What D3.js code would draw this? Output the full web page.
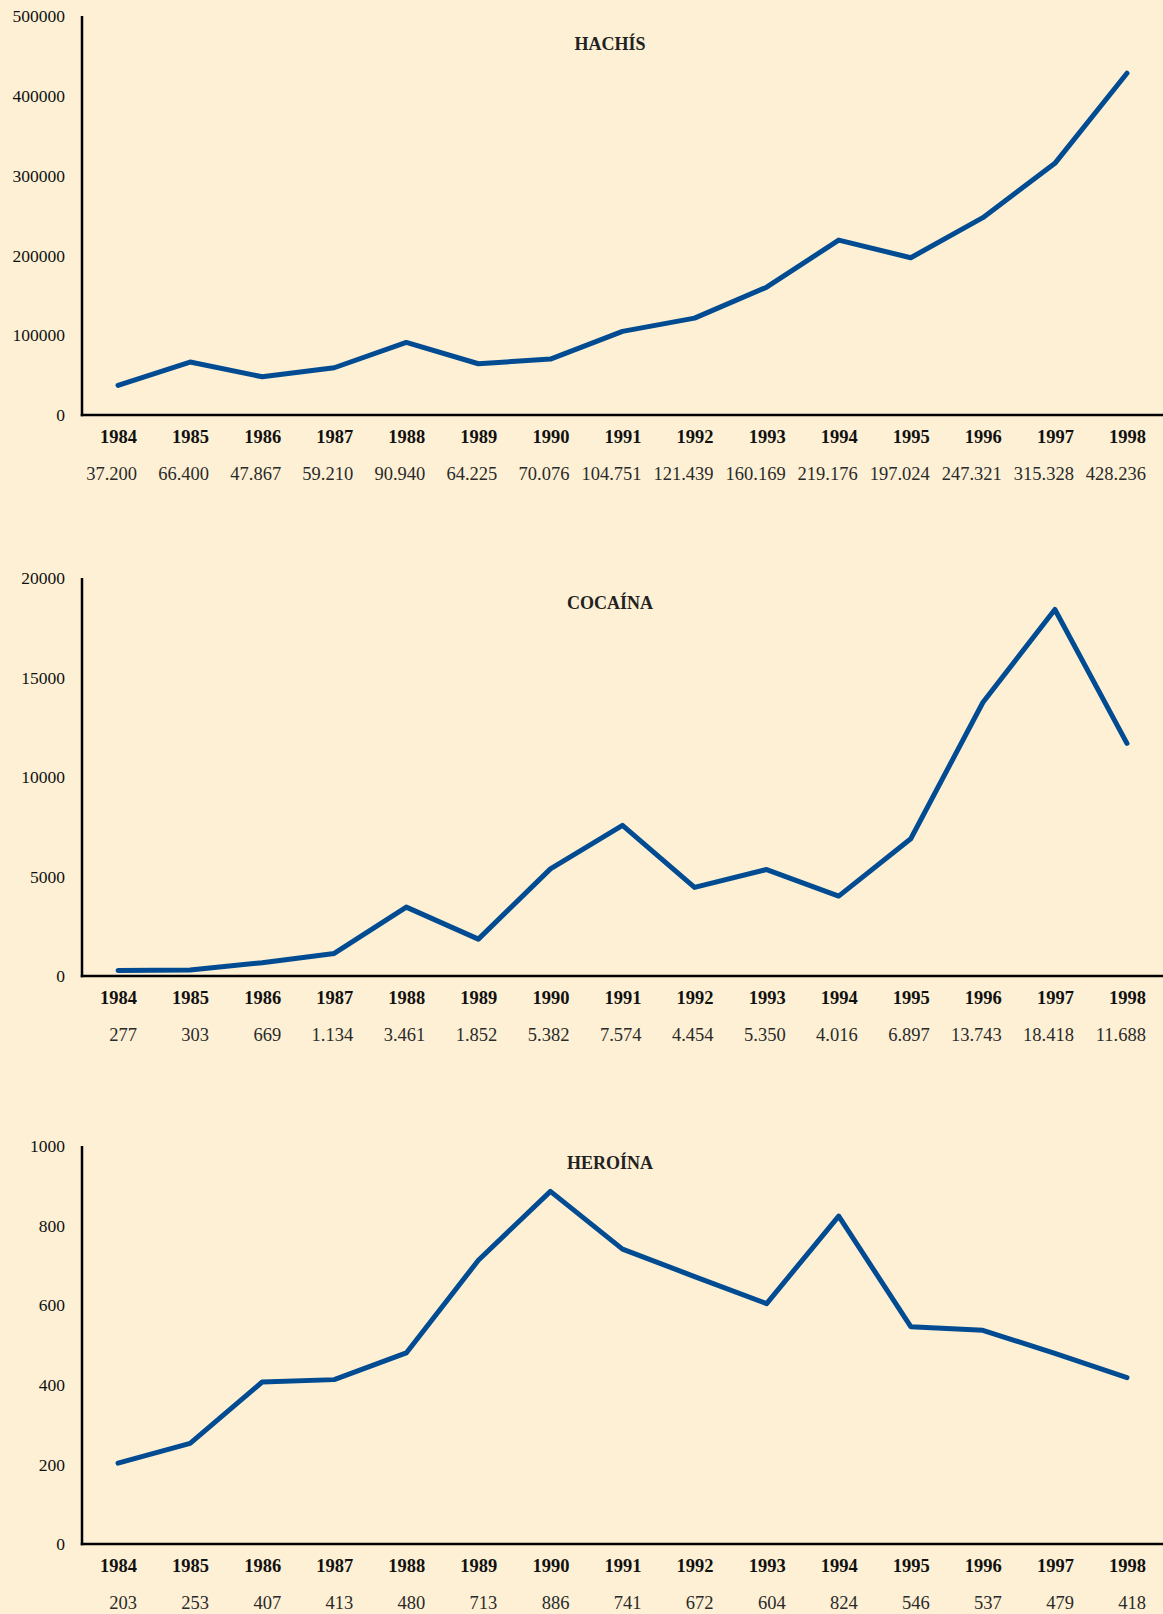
<!DOCTYPE html>
<html><head><meta charset="utf-8">
<script src="https://cdn.jsdelivr.net/npm/d3@7"></script>
<style>
html,body{margin:0;padding:0;background:#fdf0d4;}
svg{display:block;}
</style></head>
<body>
<svg id="c" width="1163" height="1614"></svg>
<script>
const years = [1984,1985,1986,1987,1988,1989,1990,1991,1992,1993,1994,1995,1996,1997,1998];
const hachis = [37200,66400,47867,59210,90940,64225,70076,104751,121439,160169,219176,197024,247321,315328,428236];
const hachisLabels = ["37.200","66.400","47.867","59.210","90.940","64.225","70.076","104.751","121.439","160.169","219.176","197.024","247.321","315.328","428.236"];
const cocaina = [277,303,669,1134,3461,1852,5382,7574,4454,5350,4016,6897,13743,18418,11688];
const cocainaLabels = ["277","303","669","1.134","3.461","1.852","5.382","7.574","4.454","5.350","4.016","6.897","13.743","18.418","11.688"];
const heroina = [203,253,407,413,480,713,886,741,672,604,824,546,537,479,418];
const heroinaLabels = ["203","253","407","413","480","713","886","741","672","604","824","546","537","479","418"];
const hachisTicks = [0,100000,200000,300000,400000,500000];
const cocainaTicks = [0,5000,10000,15000,20000];
const heroinaTicks = [0,200,400,600,800,1000];

const panels = [
  {title:"HACHÍS", values:hachis, labels:hachisLabels, ticks:hachisTicks, max:500000, top:16, base:415, titleY:44},
  {title:"COCAÍNA", values:cocaina, labels:cocainaLabels, ticks:cocainaTicks, max:20000, top:578, base:976, titleY:603},
  {title:"HEROÍNA", values:heroina, labels:heroinaLabels, ticks:heroinaTicks, max:1000, top:1146, base:1544, titleY:1163}
];

const svg = d3.select("#c");
svg.append("rect").attr("width",1163).attr("height",1614).attr("fill","#fdf0d4");
const font = "'Liberation Serif','Times New Roman',serif";
const x = d3.scaleBand().domain(years).range([82,1163]);
const xc = d => x(d) + x.bandwidth()/2;

panels.forEach(p => {
  const g = svg.append("g");
  const y = d3.scaleLinear().domain([0,p.max]).range([p.base,p.top]);
  // y tick labels
  g.selectAll("text.yt").data(p.ticks).join("text")
    .attr("x",65).attr("y",d=>y(d)).attr("dy","0.35em")
    .attr("text-anchor","end").attr("font-family",font)
    .attr("font-size",17.5).attr("fill","#111").text(d=>d);
  // axes lines
  g.append("line").attr("x1",82).attr("x2",82).attr("y1",p.top).attr("y2",p.base+1.25)
    .attr("stroke","#000").attr("stroke-width",2.5);
  g.append("line").attr("x1",80.75).attr("x2",1163).attr("y1",p.base).attr("y2",p.base)
    .attr("stroke","#000").attr("stroke-width",2.5);
  // title
  g.append("text").attr("x",610).attr("y",p.titleY).attr("dy","0.35em")
    .attr("text-anchor","middle").attr("font-family",font)
    .attr("font-weight","bold").attr("font-size",18).attr("fill","#222").text(p.title);
  // line
  const line = d3.line().x((d,i)=>xc(years[i])).y(d=>y(d));
  g.append("path").datum(p.values).attr("d",line).attr("fill","none")
    .attr("stroke","#004b91").attr("stroke-width",5).attr("stroke-linejoin","round").attr("stroke-linecap","round");
  // year labels
  g.selectAll("text.yr").data(years).join("text")
    .attr("x",d=>xc(d)+19).attr("y",p.base+22).attr("dy","0.35em")
    .attr("text-anchor","end").attr("font-family",font).attr("font-weight","bold")
    .attr("font-size",18.5).attr("fill","#111").text(d=>d);
  // value labels
  g.selectAll("text.vl").data(p.labels).join("text")
    .attr("x",(d,i)=>xc(years[i])+19).attr("y",p.base+59).attr("dy","0.35em")
    .attr("text-anchor","end").attr("font-family",font)
    .attr("font-size",18.5).attr("fill","#2a2a2a").text(d=>d);
});
</script>
</body></html>
